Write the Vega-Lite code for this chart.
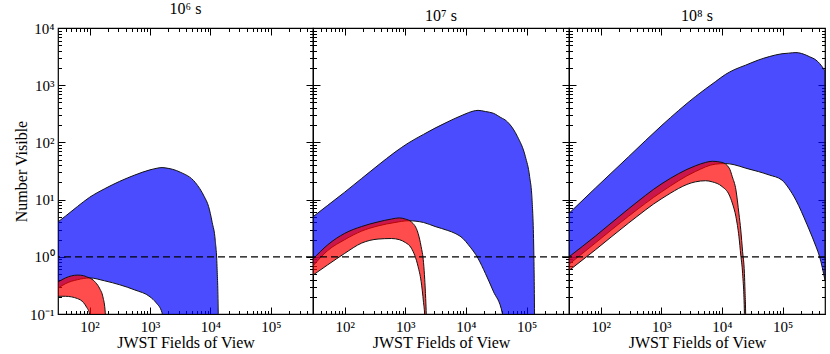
{
  "$schema": "https://vega.github.io/schema/vega-lite/v6.json",
  "background": "white",
  "padding": {"left": 12, "top": 0, "right": 2, "bottom": 0},
  "datasets": {
    "curves": [
      {"p":"a","b":"blue","x":30,"lo":0.282,"hi":4.074},
      {"p":"a","b":"blue","x":39.8,"lo":0.339,"hi":5.129},
      {"p":"a","b":"blue","x":63.1,"lo":0.398,"hi":7.586},
      {"p":"a","b":"blue","x":100,"lo":0.427,"hi":10.96},
      {"p":"a","b":"blue","x":177.8,"lo":0.380,"hi":15.49},
      {"p":"a","b":"blue","x":316.2,"lo":0.324,"hi":20.89},
      {"p":"a","b":"blue","x":562.3,"lo":0.263,"hi":26.92},
      {"p":"a","b":"blue","x":1000,"lo":0.200,"hi":33.11},
      {"p":"a","b":"blue","x":1259,"lo":0.158,"hi":35.1},
      {"p":"a","b":"blue","x":1585,"lo":0.105,"hi":36.31},
      {"p":"a","b":"blue","x":1778,"lo":0.01,"hi":35.89},
      {"p":"a","b":"blue","x":3162,"lo":0.01,"hi":30.20},
      {"p":"a","b":"blue","x":5623,"lo":0.01,"hi":19.95},
      {"p":"a","b":"blue","x":7943,"lo":0.01,"hi":11.22},
      {"p":"a","b":"blue","x":9333,"lo":0.01,"hi":7.586},
      {"p":"a","b":"blue","x":10715,"lo":0.01,"hi":3.981},
      {"p":"a","b":"blue","x":12023,"lo":0.01,"hi":1.950},
      {"p":"a","b":"blue","x":12882,"lo":0.01,"hi":0.676},
      {"p":"a","b":"blue","x":13490,"lo":0.01,"hi":0.102},
      {"p":"a","b":"blue","x":13804,"lo":0.01,"hi":0.01},

      {"p":"a","b":"red","x":30,"lo":0.204,"hi":0.363},
      {"p":"a","b":"red","x":39.8,"lo":0.204,"hi":0.427},
      {"p":"a","b":"red","x":63.1,"lo":0.186,"hi":0.479},
      {"p":"a","b":"red","x":79.4,"lo":0.158,"hi":0.468},
      {"p":"a","b":"red","x":89.1,"lo":0.132,"hi":0.447},
      {"p":"a","b":"red","x":100,"lo":0.1,"hi":0.427},
      {"p":"a","b":"red","x":104.7,"lo":0.01,"hi":0.417},
      {"p":"a","b":"red","x":125.9,"lo":0.01,"hi":0.355},
      {"p":"a","b":"red","x":147.9,"lo":0.01,"hi":0.275},
      {"p":"a","b":"red","x":166.0,"lo":0.01,"hi":0.200},
      {"p":"a","b":"red","x":182.0,"lo":0.01,"hi":0.105},
      {"p":"a","b":"red","x":186.2,"lo":0.01,"hi":0.0316},

      {"p":"b","b":"blue","x":30,"lo":0.692,"hi":5.012},
      {"p":"b","b":"blue","x":52.5,"lo":1.288,"hi":7.943},
      {"p":"b","b":"blue","x":100,"lo":1.995,"hi":13.49},
      {"p":"b","b":"blue","x":190.5,"lo":2.818,"hi":23.44},
      {"p":"b","b":"blue","x":354.8,"lo":3.467,"hi":39.81},
      {"p":"b","b":"blue","x":676.1,"lo":3.981,"hi":67.61},
      {"p":"b","b":"blue","x":1122,"lo":4.266,"hi":97.72},
      {"p":"b","b":"blue","x":1995,"lo":3.981,"hi":138.0},
      {"p":"b","b":"blue","x":3090,"lo":3.388,"hi":177.8},
      {"p":"b","b":"blue","x":5012,"lo":2.884,"hi":229.1},
      {"p":"b","b":"blue","x":6607,"lo":2.570,"hi":263.0},
      {"p":"b","b":"blue","x":8913,"lo":2.089,"hi":302.0},
      {"p":"b","b":"blue","x":10965,"lo":1.622,"hi":331.1},
      {"p":"b","b":"blue","x":15849,"lo":0.933,"hi":363.1},
      {"p":"b","b":"blue","x":20893,"lo":0.513,"hi":346.7},
      {"p":"b","b":"blue","x":28184,"lo":0.251,"hi":323.6},
      {"p":"b","b":"blue","x":39811,"lo":0.102,"hi":263.0},
      {"p":"b","b":"blue","x":41687,"lo":0.01,"hi":257.0},
      {"p":"b","b":"blue","x":51286,"lo":0.01,"hi":213.8},
      {"p":"b","b":"blue","x":70795,"lo":0.01,"hi":125.9},
      {"p":"b","b":"blue","x":95499,"lo":0.01,"hi":56.23},
      {"p":"b","b":"blue","x":112202,"lo":0.01,"hi":25.12},
      {"p":"b","b":"blue","x":123027,"lo":0.01,"hi":9.772},
      {"p":"b","b":"blue","x":131826,"lo":0.01,"hi":1.0},
      {"p":"b","b":"blue","x":134896,"lo":0.01,"hi":0.1},
      {"p":"b","b":"blue","x":136458,"lo":0.01,"hi":0.01},

      {"p":"b","b":"red","x":30,"lo":0.479,"hi":0.912},
      {"p":"b","b":"red","x":52.5,"lo":0.724,"hi":1.622},
      {"p":"b","b":"red","x":100,"lo":1.148,"hi":2.570},
      {"p":"b","b":"red","x":190.5,"lo":1.738,"hi":3.388},
      {"p":"b","b":"red","x":354.8,"lo":2.042,"hi":4.074},
      {"p":"b","b":"red","x":588.8,"lo":2.089,"hi":4.571},
      {"p":"b","b":"red","x":794.3,"lo":1.995,"hi":4.786},
      {"p":"b","b":"red","x":1000,"lo":1.778,"hi":4.571},
      {"p":"b","b":"red","x":1259,"lo":1.413,"hi":4.074},
      {"p":"b","b":"red","x":1622,"lo":0.676,"hi":2.570},
      {"p":"b","b":"red","x":1820,"lo":0.372,"hi":1.514},
      {"p":"b","b":"red","x":1995,"lo":0.158,"hi":0.794},
      {"p":"b","b":"red","x":2089,"lo":0.089,"hi":0.398},
      {"p":"b","b":"red","x":2138,"lo":0.01,"hi":0.251},
      {"p":"b","b":"red","x":2213,"lo":0.01,"hi":0.1},
      {"p":"b","b":"red","x":2239,"lo":0.01,"hi":0.063},

      {"p":"c","b":"blue","x":30,"lo":0.741,"hi":5.754},
      {"p":"c","b":"blue","x":81.3,"lo":1.738,"hi":15.85},
      {"p":"c","b":"blue","x":288.4,"lo":5.129,"hi":56.23},
      {"p":"c","b":"blue","x":1023,"lo":13.80,"hi":199.5},
      {"p":"c","b":"blue","x":3631,"lo":30.90,"hi":631.0},
      {"p":"c","b":"blue","x":7762,"lo":41.69,"hi":1148},
      {"p":"c","b":"blue","x":11482,"lo":42.66,"hi":1549},
      {"p":"c","b":"blue","x":15849,"lo":40.74,"hi":1862},
      {"p":"c","b":"blue","x":24547,"lo":35.48,"hi":2239},
      {"p":"c","b":"blue","x":39811,"lo":30.90,"hi":2754},
      {"p":"c","b":"blue","x":60256,"lo":26.92,"hi":3162},
      {"p":"c","b":"blue","x":97724,"lo":21.88,"hi":3548},
      {"p":"c","b":"blue","x":125893,"lo":15.85,"hi":3631},
      {"p":"c","b":"blue","x":165959,"lo":9.772,"hi":3715},
      {"p":"c","b":"blue","x":251189,"lo":3.715,"hi":3311},
      {"p":"c","b":"blue","x":275423,"lo":2.951,"hi":3162},
      {"p":"c","b":"blue","x":354813,"lo":1.514,"hi":2754},
      {"p":"c","b":"blue","x":407380,"lo":1.0,"hi":2399},
      {"p":"c","b":"blue","x":500000,"lo":0.389,"hi":1778},

      {"p":"c","b":"red","x":30,"lo":0.575,"hi":1.0},
      {"p":"c","b":"red","x":81.3,"lo":1.318,"hi":2.291},
      {"p":"c","b":"red","x":288.4,"lo":3.890,"hi":6.918},
      {"p":"c","b":"red","x":1023,"lo":10.47,"hi":19.05},
      {"p":"c","b":"red","x":3631,"lo":20.42,"hi":38.90},
      {"p":"c","b":"red","x":5370,"lo":21.38,"hi":44.67},
      {"p":"c","b":"red","x":6918,"lo":20.42,"hi":46.77},
      {"p":"c","b":"red","x":10000,"lo":16.98,"hi":44.67},
      {"p":"c","b":"red","x":13183,"lo":12.02,"hi":35.48},
      {"p":"c","b":"red","x":14791,"lo":8.710,"hi":25.12},
      {"p":"c","b":"red","x":16982,"lo":5.012,"hi":14.79},
      {"p":"c","b":"red","x":19055,"lo":2.239,"hi":5.623},
      {"p":"c","b":"red","x":20417,"lo":1.072,"hi":2.951},
      {"p":"c","b":"red","x":21878,"lo":0.513,"hi":1.23},
      {"p":"c","b":"red","x":23442,"lo":0.102,"hi":0.513},
      {"p":"c","b":"red","x":23988,"lo":0.01,"hi":0.251},
      {"p":"c","b":"red","x":24547,"lo":0.01,"hi":0.1},
      {"p":"c","b":"red","x":24831,"lo":0.01,"hi":0.0316}
    ]
  },
  "spacing": 0,
  "bounds": "flush",
  "hconcat": [
    {
      "width": 255, "height": 286,
      "title": {"text": "10⁶ s"},
      "data": {"name": "curves"},
      "transform": [{"filter": "datum.p == 'a'"}],
      "resolve": {"axis": {"x": "independent", "y": "independent"}},
      "layer": [
        {
          "transform": [{"filter": "datum.b == 'blue'"}],
          "mark": {"type": "area", "clip": true, "interpolate": "monotone", "fill": "#0000ff", "fillOpacity": 0.7, "stroke": "#111111", "strokeWidth": 1},
          "encoding": {
            "x": {"field": "x", "type": "quantitative", "scale": {"type": "log", "domain": [30, 500000], "nice": false},
              "axis": {"orient": "bottom", "title": "JWST Fields of View", "values": [100,1000,10000,100000],
                "labelExpr": "datum.value == 100 ? '10²' : datum.value == 1000 ? '10³' : datum.value == 10000 ? '10⁴' : '10⁵'"}},
            "y": {"field": "hi", "type": "quantitative", "scale": {"type": "log", "domain": [0.1, 10000], "nice": false},
              "axis": {"orient": "left", "title": "Number Visible", "values": [0.1,1,10,100,1000,10000],
                "labelExpr": "datum.value == 0.1 ? '10⁻¹' : datum.value == 1 ? '10⁰' : datum.value == 10 ? '10¹' : datum.value == 100 ? '10²' : datum.value == 1000 ? '10³' : '10⁴'"}},
            "y2": {"field": "lo"}
          }
        },
        {
          "transform": [{"filter": "datum.b == 'red'"}],
          "mark": {"type": "area", "clip": true, "interpolate": "monotone", "fill": "#ff0000", "fillOpacity": 0.7, "stroke": "#111111", "strokeWidth": 1},
          "encoding": {
            "x": {"field": "x", "type": "quantitative", "scale": {"type": "log", "domain": [30, 500000], "nice": false},
              "axis": {"orient": "top", "title": null, "labels": false, "values": [100,1000,10000,100000]}},
            "y": {"field": "hi", "type": "quantitative", "scale": {"type": "log", "domain": [0.1, 10000], "nice": false},
              "axis": {"orient": "right", "title": null, "labels": false, "values": [0.1,1,10,100,1000,10000]}},
            "y2": {"field": "lo"}
          }
        },
        {
          "mark": {"type": "point", "opacity": 0},
          "encoding": {
            "x": {"field": "x", "type": "quantitative", "scale": {"type": "log", "domain": [30, 500000], "nice": false},
              "axis": {"orient": "bottom", "title": null, "labels": false, "tickSize": -3.5,
                "values": [40,50,60,70,80,90,200,300,400,500,600,700,800,900,2000,3000,4000,5000,6000,7000,8000,9000,20000,30000,40000,50000,60000,70000,80000,90000,200000,300000,400000]}},
            "y": {"field": "hi", "type": "quantitative", "scale": {"type": "log", "domain": [0.1, 10000], "nice": false},
              "axis": {"orient": "left", "title": null, "labels": false, "tickSize": -3.5,
                "values": [0.2,0.3,0.4,0.5,0.6,0.7,0.8,0.9,2,3,4,5,6,7,8,9,20,30,40,50,60,70,80,90,200,300,400,500,600,700,800,900,2000,3000,4000,5000,6000,7000,8000,9000]}}
          }
        },
        {
          "mark": {"type": "point", "opacity": 0},
          "encoding": {
            "x": {"field": "x", "type": "quantitative", "scale": {"type": "log", "domain": [30, 500000], "nice": false},
              "axis": {"orient": "top", "title": null, "labels": false, "tickSize": -3.5,
                "values": [40,50,60,70,80,90,200,300,400,500,600,700,800,900,2000,3000,4000,5000,6000,7000,8000,9000,20000,30000,40000,50000,60000,70000,80000,90000,200000,300000,400000]}},
            "y": {"field": "hi", "type": "quantitative", "scale": {"type": "log", "domain": [0.1, 10000], "nice": false},
              "axis": {"orient": "right", "title": null, "labels": false, "tickSize": -3.5,
                "values": [0.2,0.3,0.4,0.5,0.6,0.7,0.8,0.9,2,3,4,5,6,7,8,9,20,30,40,50,60,70,80,90,200,300,400,500,600,700,800,900,2000,3000,4000,5000,6000,7000,8000,9000]}}
          }
        },
        {
          "data": {"values": [{}]},
          "mark": {"type": "rule", "color": "black", "strokeWidth": 1.2, "strokeDash": [7, 4]},
          "encoding": {"y": {"datum": 1, "type": "quantitative", "scale": {"type": "log", "domain": [0.1, 10000], "nice": false}, "axis": null}}
        }
      ]
    },
    {
      "width": 256, "height": 286,
      "title": {"text": "10⁷ s"},
      "data": {"name": "curves"},
      "transform": [{"filter": "datum.p == 'b'"}],
      "resolve": {"axis": {"x": "independent", "y": "independent"}},
      "layer": [
        {
          "transform": [{"filter": "datum.b == 'blue'"}],
          "mark": {"type": "area", "clip": true, "interpolate": "monotone", "fill": "#0000ff", "fillOpacity": 0.7, "stroke": "#111111", "strokeWidth": 1},
          "encoding": {
            "x": {"field": "x", "type": "quantitative", "scale": {"type": "log", "domain": [30, 500000], "nice": false},
              "axis": {"orient": "bottom", "title": "JWST Fields of View", "values": [100,1000,10000,100000],
                "labelExpr": "datum.value == 100 ? '10²' : datum.value == 1000 ? '10³' : datum.value == 10000 ? '10⁴' : '10⁵'"}},
            "y": {"field": "hi", "type": "quantitative", "scale": {"type": "log", "domain": [0.1, 10000], "nice": false},
              "axis": {"orient": "left", "title": null, "labels": false, "values": [0.1,1,10,100,1000,10000]}},
            "y2": {"field": "lo"}
          }
        },
        {
          "transform": [{"filter": "datum.b == 'red'"}],
          "mark": {"type": "area", "clip": true, "interpolate": "monotone", "fill": "#ff0000", "fillOpacity": 0.7, "stroke": "#111111", "strokeWidth": 1},
          "encoding": {
            "x": {"field": "x", "type": "quantitative", "scale": {"type": "log", "domain": [30, 500000], "nice": false},
              "axis": {"orient": "top", "title": null, "labels": false, "values": [100,1000,10000,100000]}},
            "y": {"field": "hi", "type": "quantitative", "scale": {"type": "log", "domain": [0.1, 10000], "nice": false},
              "axis": {"orient": "right", "title": null, "labels": false, "values": [0.1,1,10,100,1000,10000]}},
            "y2": {"field": "lo"}
          }
        },
        {
          "mark": {"type": "point", "opacity": 0},
          "encoding": {
            "x": {"field": "x", "type": "quantitative", "scale": {"type": "log", "domain": [30, 500000], "nice": false},
              "axis": {"orient": "bottom", "title": null, "labels": false, "tickSize": -3.5,
                "values": [40,50,60,70,80,90,200,300,400,500,600,700,800,900,2000,3000,4000,5000,6000,7000,8000,9000,20000,30000,40000,50000,60000,70000,80000,90000,200000,300000,400000]}},
            "y": {"field": "hi", "type": "quantitative", "scale": {"type": "log", "domain": [0.1, 10000], "nice": false},
              "axis": {"orient": "left", "title": null, "labels": false, "tickSize": -3.5,
                "values": [0.2,0.3,0.4,0.5,0.6,0.7,0.8,0.9,2,3,4,5,6,7,8,9,20,30,40,50,60,70,80,90,200,300,400,500,600,700,800,900,2000,3000,4000,5000,6000,7000,8000,9000]}}
          }
        },
        {
          "mark": {"type": "point", "opacity": 0},
          "encoding": {
            "x": {"field": "x", "type": "quantitative", "scale": {"type": "log", "domain": [30, 500000], "nice": false},
              "axis": {"orient": "top", "title": null, "labels": false, "tickSize": -3.5,
                "values": [40,50,60,70,80,90,200,300,400,500,600,700,800,900,2000,3000,4000,5000,6000,7000,8000,9000,20000,30000,40000,50000,60000,70000,80000,90000,200000,300000,400000]}},
            "y": {"field": "hi", "type": "quantitative", "scale": {"type": "log", "domain": [0.1, 10000], "nice": false},
              "axis": {"orient": "right", "title": null, "labels": false, "tickSize": -3.5,
                "values": [0.2,0.3,0.4,0.5,0.6,0.7,0.8,0.9,2,3,4,5,6,7,8,9,20,30,40,50,60,70,80,90,200,300,400,500,600,700,800,900,2000,3000,4000,5000,6000,7000,8000,9000]}}
          }
        },
        {
          "data": {"values": [{}]},
          "mark": {"type": "rule", "color": "black", "strokeWidth": 1.2, "strokeDash": [7, 4]},
          "encoding": {"y": {"datum": 1, "type": "quantitative", "scale": {"type": "log", "domain": [0.1, 10000], "nice": false}, "axis": null}}
        }
      ]
    },
    {
      "width": 256, "height": 286,
      "title": {"text": "10⁸ s"},
      "data": {"name": "curves"},
      "transform": [{"filter": "datum.p == 'c'"}],
      "resolve": {"axis": {"x": "independent", "y": "independent"}},
      "layer": [
        {
          "transform": [{"filter": "datum.b == 'blue'"}],
          "mark": {"type": "area", "clip": true, "interpolate": "monotone", "fill": "#0000ff", "fillOpacity": 0.7, "stroke": "#111111", "strokeWidth": 1},
          "encoding": {
            "x": {"field": "x", "type": "quantitative", "scale": {"type": "log", "domain": [30, 500000], "nice": false},
              "axis": {"orient": "bottom", "title": "JWST Fields of View", "values": [100,1000,10000,100000],
                "labelExpr": "datum.value == 100 ? '10²' : datum.value == 1000 ? '10³' : datum.value == 10000 ? '10⁴' : '10⁵'"}},
            "y": {"field": "hi", "type": "quantitative", "scale": {"type": "log", "domain": [0.1, 10000], "nice": false},
              "axis": {"orient": "left", "title": null, "labels": false, "values": [0.1,1,10,100,1000,10000]}},
            "y2": {"field": "lo"}
          }
        },
        {
          "transform": [{"filter": "datum.b == 'red'"}],
          "mark": {"type": "area", "clip": true, "interpolate": "monotone", "fill": "#ff0000", "fillOpacity": 0.7, "stroke": "#111111", "strokeWidth": 1},
          "encoding": {
            "x": {"field": "x", "type": "quantitative", "scale": {"type": "log", "domain": [30, 500000], "nice": false},
              "axis": {"orient": "top", "title": null, "labels": false, "values": [100,1000,10000,100000]}},
            "y": {"field": "hi", "type": "quantitative", "scale": {"type": "log", "domain": [0.1, 10000], "nice": false},
              "axis": {"orient": "right", "title": null, "labels": false, "values": [0.1,1,10,100,1000,10000]}},
            "y2": {"field": "lo"}
          }
        },
        {
          "mark": {"type": "point", "opacity": 0},
          "encoding": {
            "x": {"field": "x", "type": "quantitative", "scale": {"type": "log", "domain": [30, 500000], "nice": false},
              "axis": {"orient": "bottom", "title": null, "labels": false, "tickSize": -3.5,
                "values": [40,50,60,70,80,90,200,300,400,500,600,700,800,900,2000,3000,4000,5000,6000,7000,8000,9000,20000,30000,40000,50000,60000,70000,80000,90000,200000,300000,400000]}},
            "y": {"field": "hi", "type": "quantitative", "scale": {"type": "log", "domain": [0.1, 10000], "nice": false},
              "axis": {"orient": "left", "title": null, "labels": false, "tickSize": -3.5,
                "values": [0.2,0.3,0.4,0.5,0.6,0.7,0.8,0.9,2,3,4,5,6,7,8,9,20,30,40,50,60,70,80,90,200,300,400,500,600,700,800,900,2000,3000,4000,5000,6000,7000,8000,9000]}}
          }
        },
        {
          "mark": {"type": "point", "opacity": 0},
          "encoding": {
            "x": {"field": "x", "type": "quantitative", "scale": {"type": "log", "domain": [30, 500000], "nice": false},
              "axis": {"orient": "top", "title": null, "labels": false, "tickSize": -3.5,
                "values": [40,50,60,70,80,90,200,300,400,500,600,700,800,900,2000,3000,4000,5000,6000,7000,8000,9000,20000,30000,40000,50000,60000,70000,80000,90000,200000,300000,400000]}},
            "y": {"field": "hi", "type": "quantitative", "scale": {"type": "log", "domain": [0.1, 10000], "nice": false},
              "axis": {"orient": "right", "title": null, "labels": false, "tickSize": -3.5,
                "values": [0.2,0.3,0.4,0.5,0.6,0.7,0.8,0.9,2,3,4,5,6,7,8,9,20,30,40,50,60,70,80,90,200,300,400,500,600,700,800,900,2000,3000,4000,5000,6000,7000,8000,9000]}}
          }
        },
        {
          "data": {"values": [{}]},
          "mark": {"type": "rule", "color": "black", "strokeWidth": 1.2, "strokeDash": [7, 4]},
          "encoding": {"y": {"datum": 1, "type": "quantitative", "scale": {"type": "log", "domain": [0.1, 10000], "nice": false}, "axis": null}}
        }
      ]
    }
  ],
  "config": {
    "view": {"stroke": "black", "strokeWidth": 1.2},
    "font": "Liberation Serif",
    "title": {"font": "Liberation Serif", "fontSize": 16, "fontWeight": "normal", "color": "black", "offset": 0},
    "axis": {
      "domain": false, "grid": false, "zindex": 1,
      "tickColor": "black", "tickWidth": 1, "tickSize": -7,
      "labelFont": "Liberation Serif", "labelFontSize": 15, "labelColor": "black",
      "titleFont": "Liberation Serif", "titleFontSize": 16, "titleFontWeight": "normal", "titleColor": "black", "titlePadding": 0
    },
    "axisX": {"labelPadding": 12},
    "axisY": {"labelPadding": 11}
  }
}
